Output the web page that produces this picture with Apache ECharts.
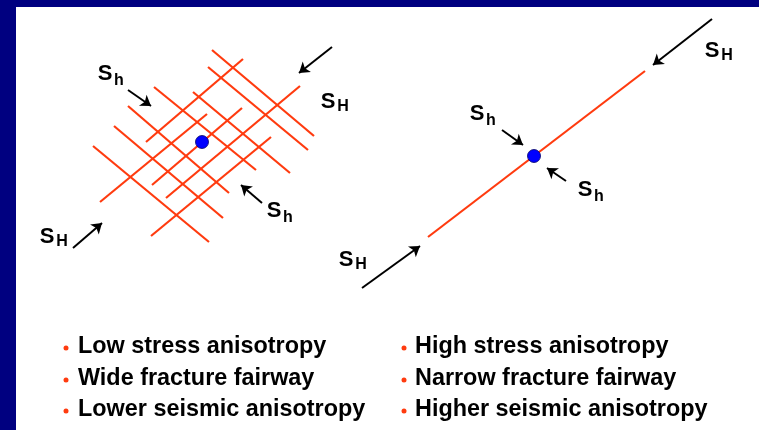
<!DOCTYPE html>
<html>
<head>
<meta charset="utf-8">
<script src="https://cdn.jsdelivr.net/npm/echarts@6/dist/echarts.min.js"></script>
<style>
  html, body { margin: 0; padding: 0; background: #000080; }
  #main { width: 759px; height: 430px; }
</style>
</head>
<body>
<div id="main"></div>
<script>
// fracture segments, left panel (x1, y1, x2, y2 in picture pixels)
var gridUp = [
	[100, 202, 207, 114],
	[146, 142, 243, 59],
	[152, 185, 242, 108],
	[166, 198, 300, 86],
	[151, 236, 271, 137]
];
var gridDown = [
	[212, 50, 314, 136],
	[208, 67, 308, 150],
	[154, 87, 256, 170],
	[193, 92, 290, 173],
	[128, 106, 229, 193],
	[114, 126, 223, 218],
	[93, 146, 209, 242]
];
// single fracture, right panel
var singleLine = [[428, 237, 645, 71]];
// stress arrows (tail -> head)
var arrows = [
	[332, 47, 299, 73],
	[128, 90, 151, 106],
	[262, 203, 241, 185],
	[73, 248, 102, 223],
	[362, 288, 420, 246],
	[712, 19, 653, 65],
	[502, 130, 523, 145],
	[566, 181, 547, 168]
];
var wells = [[202, 142], [534, 156]];
// stress labels: x, y of the S, subscript
var stressLabels = [
	[105, 74, 'h'],
	[328, 102, 'H'],
	[274, 211, 'h'],
	[47, 237, 'H'],
	[712, 51, 'H'],
	[477, 114, 'h'],
	[585, 190, 'h'],
	[346, 260, 'H']
];
var leftNotes = ['Low stress anisotropy', 'Wide fracture fairway', 'Lower seismic anisotropy'];
var rightNotes = ['High stress anisotropy', 'Narrow fracture fairway', 'Higher seismic anisotropy'];
var noteRows = [347, 379, 410];

var RED = '#ff3b0f';

function toCoords(list) {
	return list.map(function(s) {
		return { coords: [[s[0], s[1]], [s[2], s[3]]] };
	});
}

var bigS = stressLabels.map(function(l) { return [l[0], l[1], 'S']; });
var subs = stressLabels.map(function(l) {
	return [l[0] + (l[2] === 'H' ? 15 : 14), l[1] + (l[2] === 'H' ? 5 : 7), l[2]];
});

var noteText = [], bullets = [];
noteRows.forEach(function(y, i) {
	noteText.push([78, y, leftNotes[i]]);
	noteText.push([415, y, rightNotes[i]]);
	bullets.push([66, y + 1]);
	bullets.push([404, y + 1]);
});

function textSeries(data, size, bold, left) {
	return {
		type : 'scatter',
		data : data,
		symbolSize : 0,
		itemStyle : {
			opacity : 1
		},
		label : {
			show : true,
			position : left ? 'right' : 'inside',
			distance : 0,
			formatter : function(p) { return p.value[2]; },
			color : '#000000',
			opacity : 1,
			fontFamily : 'Liberation Sans',
			fontWeight : bold ? 'bold' : 'normal',
			fontSize : size,
			align : left ? 'left' : 'center',
			verticalAlign : 'middle'
		},
		z : 4
	};
}

var chart = echarts.init(document.getElementById('main'));
chart.setOption({
	animation : false,
	backgroundColor : '#000080',
	grid : {
		left : 16,
		top : 7,
		right : 0,
		bottom : 0,
		show : true,
		backgroundColor : '#ffffff',
		borderWidth : 0
	},
	xAxis : {
		type : 'value',
		min : 16,
		max : 759,
		show : false
	},
	yAxis : {
		type : 'value',
		min : 7,
		max : 430,
		inverse : true,
		show : false
	},
	series : [ {
		type : 'lines',
		coordinateSystem : 'cartesian2d',
		data : toCoords(gridUp.concat(gridDown, singleLine)),
		lineStyle : {
			color : RED,
			width : 2.2,
			opacity : 1
		},
		z : 2
	}, {
		type : 'lines',
		coordinateSystem : 'cartesian2d',
		data : toCoords(arrows),
		symbol : [ 'none', 'arrow' ],
		symbolSize : 10,
		lineStyle : {
			color : '#000',
			width : 2,
			opacity : 1
		},
		z : 2
	}, {
		type : 'scatter',
		data : wells,
		symbol : 'circle',
		symbolSize : 13,
		itemStyle : {
			color : '#0000ff',
			borderColor : '#000066',
			borderWidth : 0.8,
			opacity : 1
		},
		z : 3
	}, {
		type : 'scatter',
		data : bullets,
		symbol : 'circle',
		symbolSize : 5,
		itemStyle : {
			color : RED,
			opacity : 1
		},
		z : 3
	},
	textSeries(bigS, 22, true, false),
	textSeries(subs, 16, true, false),
	textSeries(noteText, 23.4, true, true)
	]
});
</script>
</body>
</html>
